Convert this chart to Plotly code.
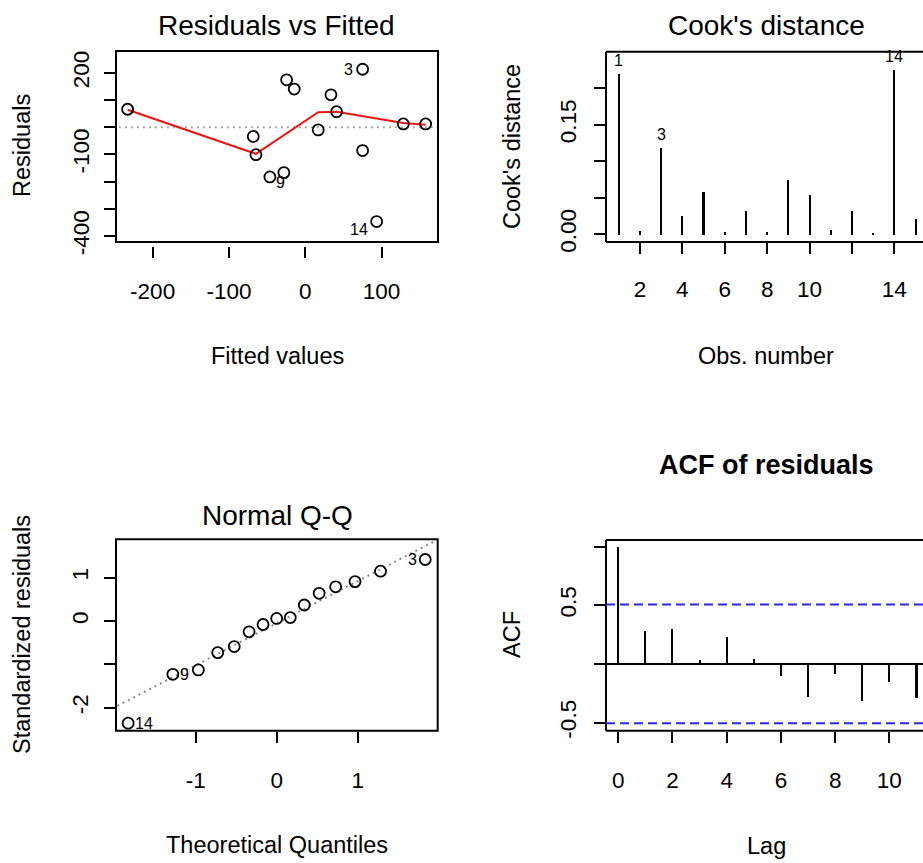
import plotly.graph_objects as go

W, H = 923, 863
FONT = "Liberation Sans, Arial, sans-serif"

# ---- Residuals vs Fitted ----
fitted = [-232.8, -68.1, -64.6, -46.3, -28.0, -24.4, -14.4, 17.0, 33.7, 41.1,
          75.2, 75.2, 93.6, 128.5, 157.8]
resid = [66, -34, -101, -183, -167, 174, 140, -10, 119, 57,
         -86, 213, -347, 12, 12]
smooth_x = [-232.8, -64.6, 17.0, 41.1, 128.5, 157.8]
smooth_y = [64, -98, 55, 57, 15, 9]
rvf_labels = [("3", 75.2, 213, "right", -8, 0),
              ("14", 93.6, -347, "right", -7, -8),
              ("9", -46.3, -183, "left", 4, -6)]
rvf_ticks = [-200, -100, 0, 100]
rvf_yticks = [-400, -300, -200, -100, 0, 100, 200]
rvf_ylabels = ["-400", "", "", "-100", "", "", "200"]

# ---- Cook's distance ----
obs = list(range(1, 16))
cooks = [0.2195, 0.0045, 0.118, 0.025, 0.058, 0.003, 0.033, 0.003, 0.075,
         0.054, 0.007, 0.032, 0.0015, 0.225, 0.021]
cook_labels = [("1", 1, 0.2195), ("3", 3, 0.118), ("14", 14, 0.225)]
cook_xticks = [2, 4, 6, 8, 10, 12, 14]
cook_xlabels = ["2", "4", "6", "8", "10", "", "14"]
cook_yticks = [0, 0.05, 0.10, 0.15, 0.20]
cook_ylabels = ["0.00", "", "", "0.15", ""]

# ---- Normal Q-Q ----
theo_q = [-1.834, -1.282, -0.967, -0.728, -0.524, -0.341, -0.168, 0.0,
          0.168, 0.341, 0.524, 0.728, 0.967, 1.282, 1.834]
std_resid = [-2.36, -1.23, -1.13, -0.73, -0.59, -0.25, -0.08, 0.06,
             0.08, 0.37, 0.64, 0.79, 0.91, 1.15, 1.42]
qq_line_x = [-2.1, 2.1]
qq_line_y = [-2.09, 1.99]
qq_labels = [("14", -1.834, -2.36, "left", 5), ("9", -1.282, -1.23, "left", 5),
             ("3", 1.834, 1.42, "right", -6)]
qq_xticks = [-1, 0, 1]
qq_xlabels = ["-1", "0", "1"]
qq_yticks = [-2, -1, 0, 1]
qq_ylabels = ["-2", "", "0", "1"]

# ---- ACF of residuals ----
lags = list(range(0, 12))
acf_vals = [1.0, 0.281, 0.298, 0.034, 0.227, 0.043, -0.102, -0.279, -0.085,
            -0.315, -0.156, -0.292]
conf_limit = 0.506
acf_xticks = [0, 2, 4, 6, 8, 10]
acf_yticks = [-0.5, 0, 0.5, 1.0]
acf_ylabels = ["-0.5", "", "0.5", ""]


def dom_x(a, b):
    return [a / W, min(b / W, 1.0)]


def dom_y(top, bottom):
    return [1 - bottom / H, 1 - top / H]


tick_font = dict(family=FONT, size=22.5, color="black")
common_axis = dict(showgrid=False, zeroline=False, showline=False, automargin=False,
                   ticks="outside", ticklen=11, tickwidth=2, tickcolor="black",
                   tickfont=tick_font)
circle = dict(symbol="circle-open", size=11, color="black",
              line=dict(color="black", width=1.8))

fig = go.Figure()

# Residuals vs Fitted
fig.add_trace(go.Scatter(x=[-260, 190], y=[0, 0], mode="lines",
                         line=dict(color="#a8a8a8", width=2, dash="2px,4px"),
                         xaxis="x", yaxis="y", hoverinfo="skip"))
fig.add_trace(go.Scatter(x=smooth_x, y=smooth_y, mode="lines",
                         line=dict(color="#ee1414", width=2),
                         xaxis="x", yaxis="y"))
fig.add_trace(go.Scatter(x=fitted, y=resid, mode="markers", marker=circle,
                         xaxis="x", yaxis="y"))

# Cook's distance
fig.add_trace(go.Bar(x=obs, y=cooks, width=0.1,
                     marker=dict(color="black", line=dict(width=0)),
                     xaxis="x2", yaxis="y2"))

# Normal Q-Q
fig.add_trace(go.Scatter(x=qq_line_x, y=qq_line_y, mode="lines",
                         line=dict(color="#8c8c8c", width=2, dash="2px,4px"),
                         xaxis="x3", yaxis="y3"))
fig.add_trace(go.Scatter(x=theo_q, y=std_resid, mode="markers", marker=circle,
                         xaxis="x3", yaxis="y3"))

# ACF
fig.add_trace(go.Bar(x=lags, y=acf_vals, width=0.075,
                     marker=dict(color="black", line=dict(width=0)),
                     xaxis="x4", yaxis="y4"))

layout = dict(
    width=W, height=H, margin=dict(l=0, r=0, t=0, b=0, autoexpand=False),
    paper_bgcolor="white", plot_bgcolor="white", showlegend=False,
    font=dict(family=FONT, color="black"),
    bargap=0,
)

p1y = dom_y(51, 242)
layout["xaxis"] = dict(common_axis, domain=dom_x(116, 438), range=[-248, 174],
                       tickvals=rvf_ticks, ticktext=[str(v) for v in rvf_ticks],
                       anchor="free", position=p1y[0] - 4 / H, ticklabelstandoff=14)
layout["yaxis"] = dict(common_axis, domain=p1y, range=[-422, 280],
                       tickvals=rvf_yticks, ticktext=rvf_ylabels,
                       tickangle=-90, anchor="x", ticklabelstandoff=6)

p2y = dom_y(51.7, 242)
layout["xaxis2"] = dict(common_axis, domain=dom_x(606, 923), range=[0.40, 15.35],
                        tickvals=cook_xticks, ticktext=cook_xlabels,
                        anchor="y2", ticklabelstandoff=16)
layout["yaxis2"] = dict(common_axis, domain=p2y, range=[-0.0105, 0.25],
                        tickvals=cook_yticks, ticktext=cook_ylabels,
                        tickangle=-90, anchor="x2", ticklabelstandoff=9)

p3y = dom_y(539.3, 730.7)
layout["xaxis3"] = dict(common_axis, domain=dom_x(116, 437.7), range=[-1.984, 1.988],
                        tickvals=qq_xticks, ticktext=qq_xlabels,
                        anchor="y3", ticklabelstandoff=18)
layout["yaxis3"] = dict(common_axis, domain=p3y, range=[-2.533, 1.887],
                        tickvals=qq_yticks, ticktext=qq_ylabels,
                        tickangle=-90, anchor="x3", ticklabelstandoff=7)

p4y = dom_y(540, 730.7)
layout["xaxis4"] = dict(common_axis, domain=dom_x(606, 923), range=[-0.45, 11.24],
                        tickvals=acf_xticks, ticktext=[str(v) for v in acf_xticks],
                        anchor="y4", ticklabelstandoff=18)
layout["yaxis4"] = dict(common_axis, domain=p4y, range=[-0.569, 1.057],
                        tickvals=acf_yticks, ticktext=acf_ylabels,
                        tickangle=-90, anchor="x4", ticklabelstandoff=9)

frame = dict(color="black", width=2)
shapes = []
# full frames on the left-hand panels
for ax in ("", "3"):
    shapes.append(dict(type="rect", xref=f"x{ax} domain", yref=f"y{ax} domain",
                       x0=0, x1=1, y0=0, y1=1, line=frame, layer="above"))
# right-hand panels run off the page edge: left, top and bottom sides only
for ax in ("2", "4"):
    for x0, x1, y0, y1 in ((0, 0, 0, 1), (0, 1, 1, 1), (0, 1, 0, 0)):
        shapes.append(dict(type="line", xref=f"x{ax} domain", yref=f"y{ax} domain",
                           x0=x0, x1=x1, y0=y0, y1=y1, line=frame, layer="above"))
# ACF zero line and confidence bounds
shapes.append(dict(type="line", xref="x4 domain", yref="y4", x0=0, x1=1, y0=0, y1=0,
                   line=dict(color="black", width=2)))
for lim in (conf_limit, -conf_limit):
    shapes.append(dict(type="line", xref="x4 domain", yref="y4", x0=0, x1=1,
                       y0=lim, y1=lim,
                       line=dict(color="#2a2ae0", width=2, dash="9px,5px")))
layout["shapes"] = shapes

ann = []


def paper_text(text, px, py, size, angle=0, bold=False):
    ann.append(dict(text=f"<b>{text}</b>" if bold else text,
                    x=px / W, y=1 - py / H, xref="paper", yref="paper",
                    xanchor="center", yanchor="middle", showarrow=False,
                    textangle=angle, font=dict(family=FONT, size=size, color="black")))


# panel titles
paper_text("Residuals vs Fitted", 276, 25, 28)
paper_text("Cook's distance", 766, 25, 28)
paper_text("Normal Q-Q", 277, 515, 28)
paper_text("ACF of residuals", 766, 465, 27, bold=True)
# axis titles
paper_text("Fitted values", 277, 356, 23.5)
paper_text("Obs. number", 766, 356, 23.5)
paper_text("Theoretical Quantiles", 277, 845, 23.5)
paper_text("Lag", 766, 846, 23.5)
paper_text("Residuals", 22, 146, 23.5, angle=-90)
paper_text("Cook's distance", 512, 147, 23.5, angle=-90)
paper_text("Standardized residuals", 22, 635, 23.5, angle=-90)
paper_text("ACF", 512, 635, 23.5, angle=-90)

# point identifiers
lab_font = dict(family=FONT, size=16, color="black")
for t, x, y, anc, xs, ys in rvf_labels:
    ann.append(dict(text=t, x=x, y=y, xref="x", yref="y", xanchor=anc, yanchor="middle",
                    xshift=xs, yshift=ys, showarrow=False, font=lab_font))
for t, x, y in cook_labels:
    ann.append(dict(text=t, x=x, y=y, xref="x2", yref="y2", xanchor="center",
                    yanchor="bottom", yshift=3, showarrow=False, font=lab_font))
for t, x, y, anc, xs in qq_labels:
    ann.append(dict(text=t, x=x, y=y, xref="x3", yref="y3", xanchor=anc, yanchor="middle",
                    xshift=xs, showarrow=False, font=lab_font))
layout["annotations"] = ann

fig.update_layout(layout)
fig.write_html("out.html", config={"displayModeBar": False})
